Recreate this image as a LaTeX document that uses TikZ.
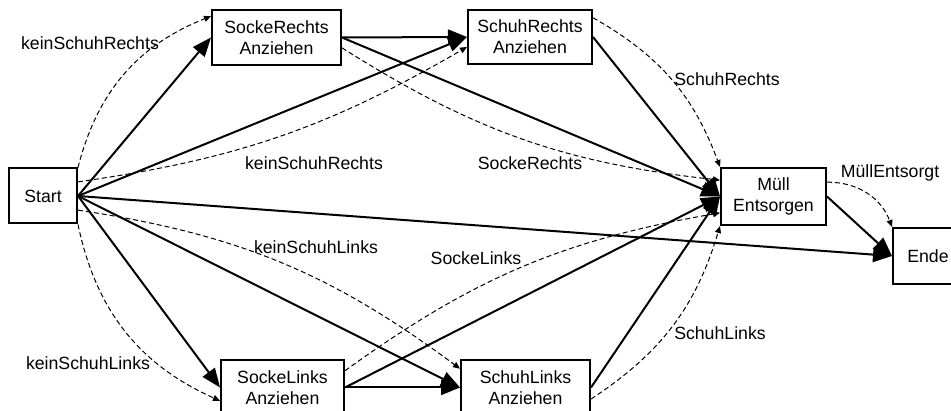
\documentclass[tikz,border=0pt]{standalone}
\usepackage{fontspec}
\setmainfont{Liberation Sans}
\usetikzlibrary{arrows.meta}
\begin{document}
\begin{tikzpicture}[x=1pt,y=1pt,
  box/.style={draw,line width=2pt,inner sep=0pt,align=center,font=\fontsize{17.7}{20.7}\selectfont},
  lbl/.style={inner sep=0pt,font=\fontsize{17.7}{20.7}\selectfont},
  solidarrow/.style={line width=2pt,-{Triangle[length=19pt,width=15pt]}},
  dasharrow/.style={line width=1pt,dash pattern=on 5pt off 3pt,-{Triangle[length=7pt,width=6pt]}}]
\useasboundingbox (0,0) rectangle (951,411);

\node[box,minimum width=68pt,minimum height=55pt] (start) at (43,215) {Start};
\node[box,minimum width=129pt,minimum height=55pt] (sr) at (276.5,373.5) {SockeRechts\\Anziehen};
\node[box,minimum width=124pt,minimum height=54pt] (hr) at (530,374) {SchuhRechts\\Anziehen};
\node[box,minimum width=105pt,minimum height=57pt] (m) at (773.5,214.5) {Müll\\Entsorgen};
\node[box,minimum width=70pt,minimum height=56pt] (e) at (928,155) {Ende};
\node[box,minimum width=123pt,minimum height=55pt] (sl) at (282.5,23.5) {SockeLinks\\Anziehen};
\node[box,minimum width=129pt,minimum height=55pt] (hl) at (525.5,23.5) {SchuhLinks\\Anziehen};

\draw[solidarrow] (start.east) -- (sr.west);
\draw[solidarrow] (start.east) -- (hr.west);
\draw[solidarrow] (sr.east) -- (hr.west);
\draw[solidarrow] (sr.east) -- (m.west);
\draw[solidarrow] (hr.east) -- (m.west);
\draw[solidarrow] (start.east) -- (e.west);
\draw[solidarrow] (start.east) -- (sl.west);
\draw[solidarrow] (start.east) -- (hl.west);
\draw[solidarrow] (sl.east) -- (hl.west);
\draw[solidarrow] (sl.east) -- (m.west);
\draw[solidarrow] (hl.east) -- (m.west);
\draw[solidarrow] (m.east) -- (e.west);

\draw[dasharrow] (start.north east) to[bend left=27] (sr.162);
\draw[dasharrow] (start.22) to[bend right=11] (hr.189);
\draw[dasharrow] (sr.-9) to[bend right=13] (m.163);
\draw[dasharrow] (hr.17) to[bend left=20] (m.north west);
\draw[dasharrow] (m.15) to[bend left=35] (e.north west);
\draw[dasharrow] (start.south east) to[bend right=27] (sl.192);
\draw[dasharrow] (start.-22) to[bend left=14] (hl.164);
\draw[dasharrow] (sl.15) to[bend left=13] (m.197);
\draw[dasharrow] (hl.-10) to[bend right=20] (m.south west);

\node[lbl] (l1) at (90,368) {keinSchuhRechts};
\node[lbl] (l2) at (314,248) {keinSchuhRechts};
\node[lbl] (l3) at (530,248) {SockeRechts};
\node[lbl] (l4) at (727,332) {SchuhRechts};
\node[lbl] (l5) at (890,238) {MüllEntsorgt};
\node[lbl] (l6) at (88,48) {keinSchuhLinks};
\node[lbl] (l7) at (316,164) {keinSchuhLinks};
\node[lbl] (l8) at (476,153) {SockeLinks};
\node[lbl] (l9) at (720,78) {SchuhLinks};
\end{tikzpicture}
\end{document}
